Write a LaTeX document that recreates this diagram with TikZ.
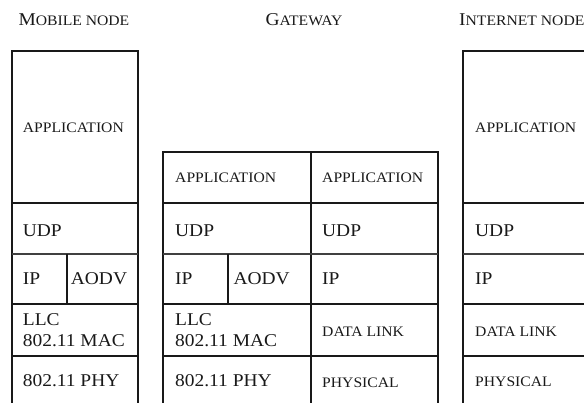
\documentclass[tikz,border=0pt]{standalone}
\usepackage{fontspec}
\setmainfont[FakeStretch=1.08]{Liberation Serif}
\newcommand\bigtxt{\fontsize{18}{21}\selectfont}
\newcommand\smtxt{\fontsize{14.5}{16}\selectfont}
\begin{document}
\begin{tikzpicture}[x=1pt,y=-1pt,
  layer/.style={line width=1.8pt, black!90},
  thinlayer/.style={line width=1.2pt, black!75},
  lbl/.style={anchor=base west, inner sep=0pt, font=\bigtxt, text=black!90},
  sclbl/.style={lbl, font=\smtxt},
  ttl/.style={inner sep=0pt, text=black!90}]
\useasboundingbox (0,0) rectangle (584,403);
\clip (0,0) rectangle (584,403);

% ---------- titles
\node[ttl, anchor=base west] (tmob) at (18.3,26) {\bigtxt M\smtxt OBILE NODE};
\node[ttl, anchor=base] (tgw) at (304,26) {\bigtxt G\smtxt ATEWAY};
\node[ttl, anchor=base west] (tint) at (459,26) {\bigtxt I\smtxt NTERNET NODE};

% ---------- mobile node stack
\draw[layer] (11.7,50.7) rectangle (137.7,420);
\draw[layer] (11.7,203.3) -- (137.7,203.3);
\draw[thinlayer] (11.7,254) -- (137.7,254);
\draw[layer] (11.7,304.3) -- (137.7,304.3);
\draw[layer] (11.7,355.7) -- (137.7,355.7);
\draw[layer] (66.7,254) -- (66.7,304.3);

\node[sclbl] (mapp) at (22.7,132.3) {APPLICATION};
\node[lbl] (mudp) at (22.7,236.7) {UDP};
\node[lbl] (mip) at (22.7,285) {IP};
\node[lbl] (maodv) at (70.7,285) {AODV};
\node[lbl] (mllc) at (22.7,325.7) {LLC};
\node[lbl] (mmac) at (22.7,346.7) {802.11 MAC};
\node[lbl] (mphy) at (22.7,386.7) {802.11 PHY};

% ---------- gateway stack
\draw[layer] (163.3,152) rectangle (438.3,420);
\draw[layer] (311,152) -- (311,420);
\draw[layer] (163.3,203.3) -- (438.3,203.3);
\draw[thinlayer] (163.3,254) -- (438.3,254);
\draw[layer] (163.3,304.3) -- (438.3,304.3);
\draw[layer] (163.3,355.7) -- (438.3,355.7);
\draw[layer] (227.7,254) -- (227.7,304.3);

\node[sclbl] (gapp) at (175,182.7) {APPLICATION};
\node[lbl] (gudp) at (175,236.7) {UDP};
\node[lbl] (gip) at (175,285) {IP};
\node[lbl] (gaodv) at (233.3,285) {AODV};
\node[lbl] (gllc) at (175,325.7) {LLC};
\node[lbl] (gmac) at (175,346.7) {802.11 MAC};
\node[lbl] (gphy) at (175,386.7) {802.11 PHY};

\node[sclbl] (rapp) at (322,182.7) {APPLICATION};
\node[lbl] (rudp) at (322,236.7) {UDP};
\node[lbl] (rip) at (322,285) {IP};
\node[sclbl] (rdl) at (322,336.7) {DATA LINK};
\node[sclbl] (rphy) at (322,388) {PHYSICAL};

% ---------- internet node stack
\draw[layer] (463.3,50.7) rectangle (600,420);
\draw[layer] (463.3,203.3) -- (600,203.3);
\draw[thinlayer] (463.3,254) -- (600,254);
\draw[layer] (463.3,304.3) -- (600,304.3);
\draw[layer] (463.3,355.7) -- (600,355.7);

\node[sclbl] (iapp) at (475,132.3) {APPLICATION};
\node[lbl] (iudp) at (475,236.7) {UDP};
\node[lbl] (iip) at (475,285) {IP};
\node[sclbl] (idl) at (475,336.7) {DATA LINK};
\node[sclbl] (iphy) at (475,387) {PHYSICAL};
\end{tikzpicture}
\end{document}
